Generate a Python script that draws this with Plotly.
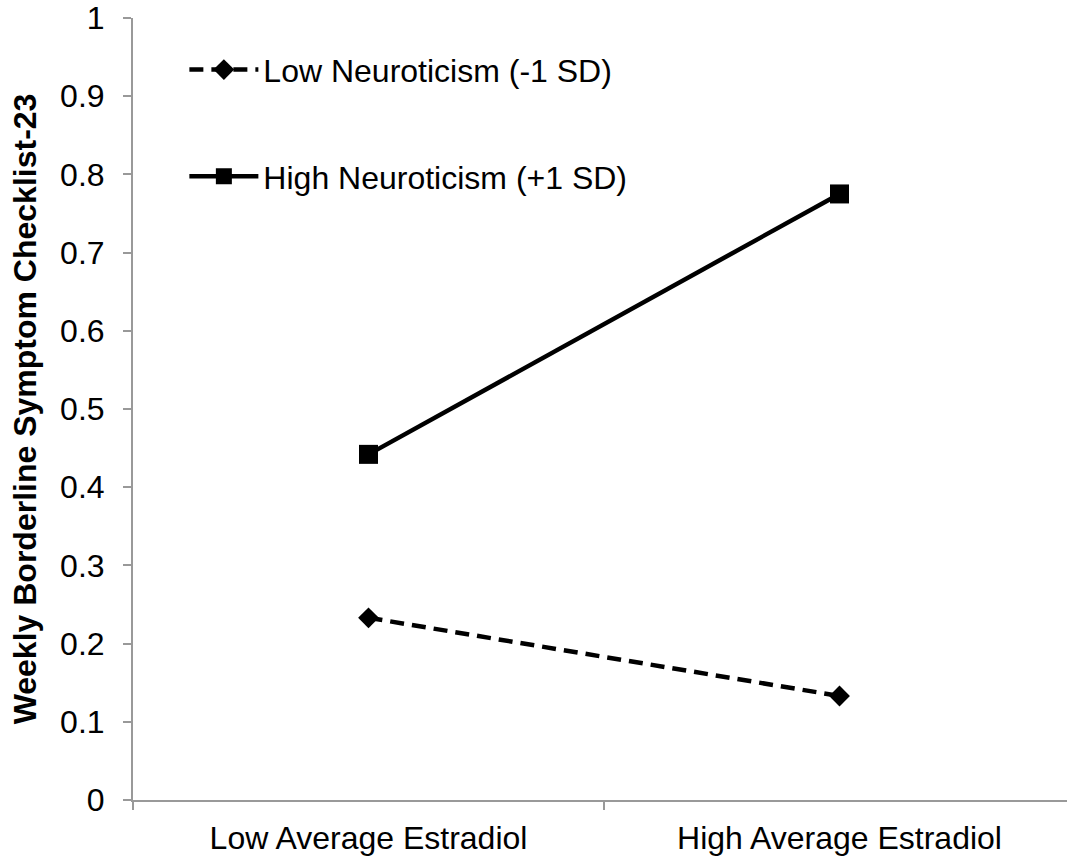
import plotly.graph_objects as go

categories = ["Low Average Estradiol", "High Average Estradiol"]
low_neuro = [0.233, 0.133]
high_neuro = [0.442, 0.775]
series_names = ["Low Neuroticism (-1 SD)", "High Neuroticism (+1 SD)"]
y_ticks = [0, 0.1, 0.2, 0.3, 0.4, 0.5, 0.6, 0.7, 0.8, 0.9, 1]
y_tick_labels = ["0", "0.1", "0.2", "0.3", "0.4", "0.5", "0.6", "0.7", "0.8", "0.9", "1"]

FONT = "Liberation Sans, Arial, sans-serif"

fig = go.Figure()
fig.add_trace(go.Scatter(
    x=categories, y=low_neuro, name=series_names[0], mode="lines+markers",
    line=dict(color="black", width=4.5, dash="14px,8px"),
    marker=dict(symbol="diamond", size=16, color="black"),
    legendgroup="a",
))
fig.add_trace(go.Scatter(
    x=categories, y=high_neuro, name=series_names[1], mode="lines+markers",
    line=dict(color="black", width=4.5),
    marker=dict(symbol="square", size=19, color="black"),
    legendgroup="b",
))

fig.update_layout(
    width=1067, height=862,
    margin=dict(l=133, r=0, t=18, b=62),
    plot_bgcolor="white", paper_bgcolor="white",
    font=dict(family=FONT, size=32, color="black"),
    showlegend=True,
    legend=dict(
        x=0.055, y=0.969, xanchor="left", yanchor="top",
        bgcolor="rgba(0,0,0,0)", traceorder="grouped", tracegroupgap=62,
        font=dict(family=FONT, size=32, color="black"),
        itemwidth=69,
    ),
    xaxis=dict(
        type="category", range=[-0.5, 1.483],
        showline=True, linecolor="#999999", linewidth=2,
        ticks="outside", ticklen=8, tickcolor="#999999", tickwidth=2,
        tickson="boundaries", showgrid=False, zeroline=False,
        ticklabelstandoff=9,
        tickfont=dict(family=FONT, size=32, color="black"),
    ),
    yaxis=dict(
        range=[0, 1], tickvals=y_ticks, ticktext=y_tick_labels,
        showline=True, linecolor="#999999", linewidth=2,
        ticks="outside", ticklen=8, tickcolor="#999999", tickwidth=2,
        showgrid=False, zeroline=False,
        ticklabelstandoff=12,
        tickfont=dict(family=FONT, size=32, color="black"),
        title=dict(text="<b>Weekly Borderline Symptom Checklist-23</b>",
                   font=dict(family=FONT, size=32, color="black"), standoff=14),
    ),
)

fig.write_html("out.html", config={"displayModeBar": False},
               post_script="document.body.style.margin='0';document.body.style.overflow='hidden';")
